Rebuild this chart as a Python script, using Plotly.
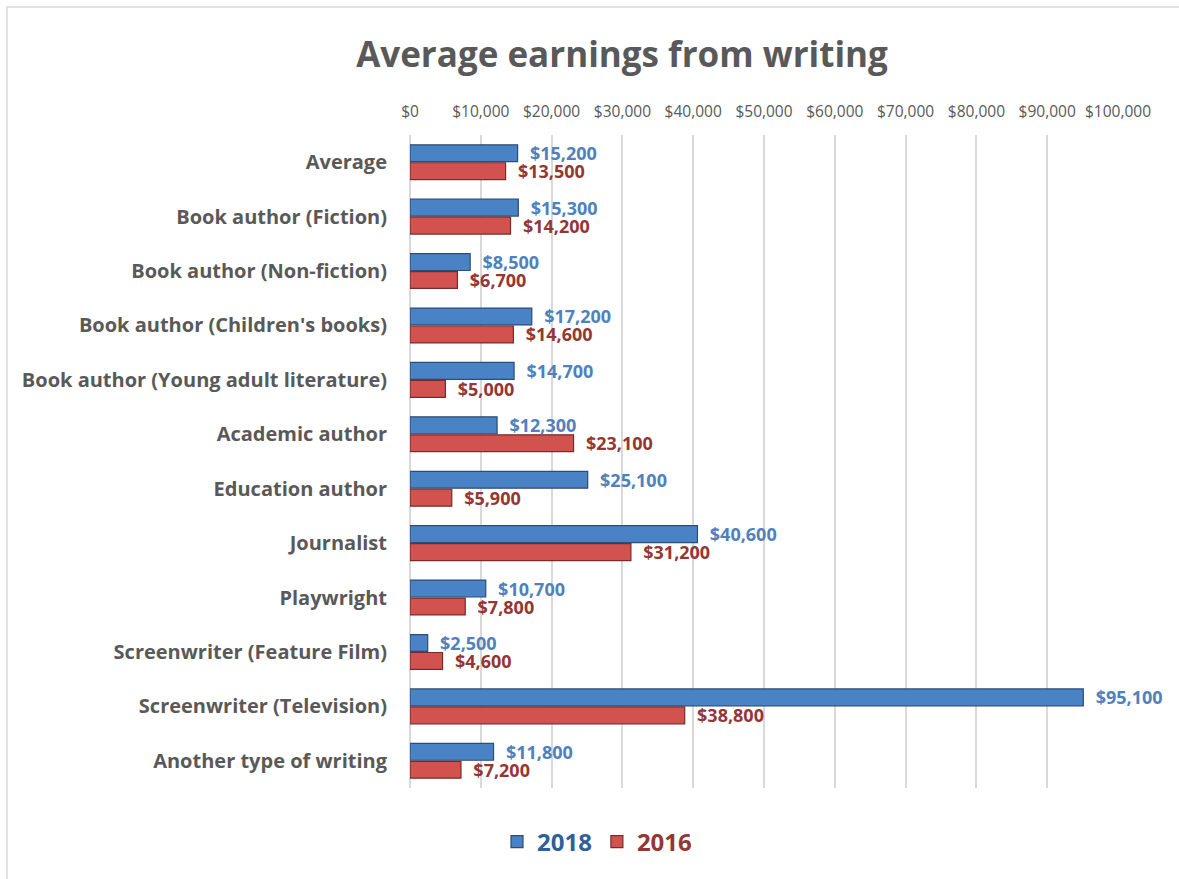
import plotly.graph_objects as go

categories = [
    "Average",
    "Book author (Fiction)",
    "Book author (Non-fiction)",
    "Book author (Children's books)",
    "Book author (Young adult literature)",
    "Academic author",
    "Education author",
    "Journalist",
    "Playwright",
    "Screenwriter (Feature Film)",
    "Screenwriter (Television)",
    "Another type of writing",
]
earnings_2018 = [15200, 15300, 8500, 17200, 14700, 12300, 25100, 40600, 10700, 2500, 95100, 11800]
earnings_2016 = [13500, 14200, 6700, 14600, 5000, 23100, 5900, 31200, 7800, 4600, 38800, 7200]
tick_values = [0, 10000, 20000, 30000, 40000, 50000, 60000, 70000, 80000, 90000, 100000]
tick_labels = ["$0", "$10,000", "$20,000", "$30,000", "$40,000", "$50,000",
               "$60,000", "$70,000", "$80,000", "$90,000", "$100,000"]

W, H = 1179, 879
ML, MR, MT, MB = 410, 61, 135, 91
FONT = "Open Sans"
GRAY = "#595959"

def fmt(v):
    return "\u00a0\u00a0${:,}".format(v)

fig = go.Figure()
fig.add_trace(go.Bar(
    y=categories, x=earnings_2018, orientation="h",
    name="<span style='color:#2e5f99'>2018</span>",
    marker=dict(color="#4a82c6", line=dict(color="#2c4d75", width=1.2)),
    text=[fmt(v) for v in earnings_2018], textposition="outside",
    textfont=dict(family=FONT, size=18, color="#4f81bd", weight="bold"),
    constraintext="none", cliponaxis=False, hoverinfo="x+y",
))
fig.add_trace(go.Bar(
    y=categories, x=earnings_2016, orientation="h",
    name="<span style='color:#943634'>2016</span>",
    marker=dict(color="#d2524f", line=dict(color="#772c2a", width=1.2)),
    text=[fmt(v) for v in earnings_2016], textposition="outside",
    textfont=dict(family=FONT, size=18, color="#943634", weight="bold"),
    constraintext="none", cliponaxis=False, hoverinfo="x+y",
))

pw = W - ML - MR
ph = H - MT - MB
def px_x(p):
    return (p - ML) / pw
def px_y(p):
    return (H - MB - p) / ph

fig.update_layout(
    width=W, height=H,
    margin=dict(l=ML, r=MR, t=MT, b=MB, autoexpand=False),
    paper_bgcolor="white", plot_bgcolor="white",
    barmode="group", bargap=0.34, bargroupgap=0.06,
    title=dict(text="<b>Average earnings from writing</b>", x=622 / W, xanchor="center",
               y=1 - 55 / H, yanchor="middle",
               font=dict(family=FONT, size=35, color=GRAY)),
    xaxis=dict(side="top", range=[0, 100000], tickvals=tick_values, ticktext=tick_labels,
               showgrid=True, gridcolor="#d9d9d9", gridwidth=1.5,
               zeroline=True, zerolinecolor="#d9d9d9", zerolinewidth=1.5,
               showline=False, ticks="", ticklabelstandoff=14,
               tickfont=dict(family=FONT, size=15.5, color=GRAY), fixedrange=True),
    yaxis=dict(autorange="reversed", showgrid=False, ticks="", ticklabelstandoff=22,
               tickfont=dict(family=FONT, size=20, color=GRAY, weight="bold"),
               fixedrange=True),
    legend=dict(orientation="h", x=px_x(597), xanchor="center", y=px_y(842), yanchor="middle",
                font=dict(family=FONT, size=24, weight="bold", color="#2e5f99"),
                itemwidth=30, traceorder="normal"),
    shapes=[dict(type="rect", xref="paper", yref="paper",
                 x0=px_x(7), x1=px_x(1190), y0=px_y(890), y1=px_y(7),
                 line=dict(color="#d9d9d9", width=1.5), fillcolor="rgba(0,0,0,0)",
                 layer="below")],
)

fig.write_html("out.html", config={"displayModeBar": False},
               post_script="document.body.style.margin='0';")
